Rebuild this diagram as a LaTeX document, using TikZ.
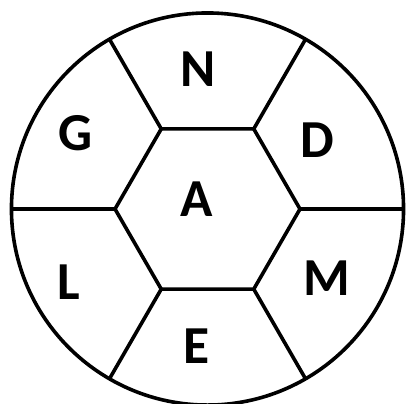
\documentclass[tikz,border=0pt]{standalone}
\usepackage{fontspec}
\setmainfont{Carlito}
\begin{document}
\begin{tikzpicture}[x=0.025cm, y=-0.025cm, line width=0.09cm,
    every node/.style={font=\fontsize{38}{38}\selectfont\bfseries, inner sep=0pt}]
  \useasboundingbox (0,0) rectangle (407,403);
  \coordinate (c) at (207.5,209);
  \draw (c) circle [radius=4.9cm];

  \foreach \a in {0,60,...,300} {
    \coordinate (h\a) at ([shift={(c)}]\a:92.5);
    \coordinate (o\a) at ([shift={(c)}]\a:196);
    \draw (h\a) -- (o\a);
  }
  \draw (h0) -- (h60) -- (h120) -- (h180) -- (h240) -- (h300) -- cycle;

  \node (n) at (198,69) {N};
  \node (d) at (317,140) {D};
  \node (g) at (76,133) {G};
  \node (a) at (197,199) {A};
  \node (l) at (69,282) {L};
  \node (m) at (327,278) {M};
  \node (e) at (197,346) {E};
\end{tikzpicture}
\end{document}
